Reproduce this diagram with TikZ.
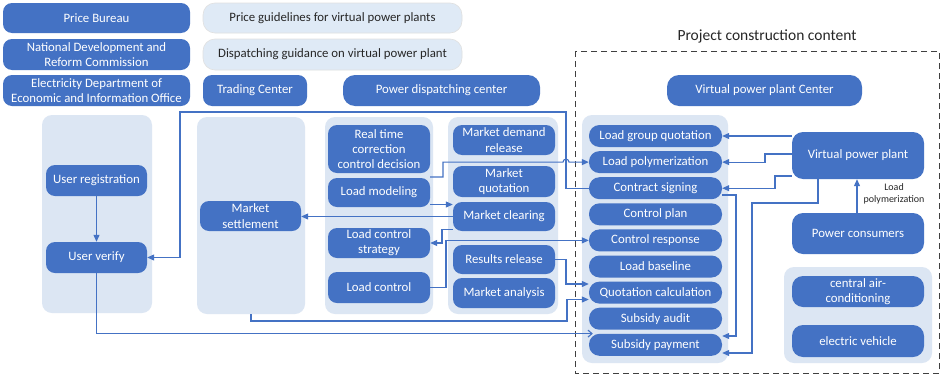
\documentclass[tikz,border=0pt]{standalone}
\usepackage{fontspec}
\setmainfont{Carlito}
\usetikzlibrary{arrows.meta}
\definecolor{dk}{HTML}{4472C4}
\definecolor{lt}{HTML}{DCE6F3}
\definecolor{lt2}{HTML}{DFEAF6}
\begin{document}
\begin{tikzpicture}[x=1pt,y=-1pt,
  dbox/.style={fill=dk, text=white, rounded corners=9pt, inner sep=0pt, align=center,
    font=\fontsize{12.8}{15.3}\selectfont},
  lbox/.style={fill=lt2, draw=black!12, line width=0.6pt, rounded corners=12pt, inner sep=0pt,
    align=center, text=black!85, font=\fontsize{12.8}{15.3}\selectfont},
  panel/.style={fill=lt, rounded corners=10pt, inner sep=0pt},
  pill/.style={dbox, rounded corners=10.5pt, minimum width=133pt, minimum height=22pt},
  conn/.style={draw=dk, line width=1.1pt, -{Triangle[length=7pt,width=6pt]}},
  conno/.style={draw=dk, line width=1.1pt, -{Straight Barb[length=4pt,width=7pt]}},
  frame/.style={draw=black!75, line width=1pt, dash pattern=on 6pt off 4pt},
  small/.style={font=\fontsize{10}{12}\selectfont, align=center, text=black!85}
]
\useasboundingbox (0,0) rectangle (941,375);
\fill[white] (0,0) rectangle (941,375);

% top row
\node[dbox, minimum width=187pt, minimum height=30pt] (pb) at (96.5,18) {Price Bureau};
\node[dbox, minimum width=187pt, minimum height=31pt] (ndrc) at (96.5,54.5) {National Development and\\Reform Commission};
\node[dbox, minimum width=187pt, minimum height=31pt] (eld) at (96.5,90.5) {Electricity Department of\\Economic and Information Office};
\node[lbox, minimum width=259pt, minimum height=30pt] (pg) at (332.5,18) {Price guidelines for virtual power plants};
\node[lbox, minimum width=259pt, minimum height=31pt] (dg) at (332.5,54.5) {Dispatching guidance on virtual power plant};
\node[dbox, minimum width=104pt, minimum height=31pt] (tc) at (255,90.5) {Trading Center};
\node[dbox, minimum width=197pt, minimum height=31pt, rounded corners=12pt] (pdc) at (441.5,90.5) {Power dispatching center};
\node[dbox, minimum width=195pt, minimum height=31pt, rounded corners=12pt] (vppc) at (764.5,90.5) {Virtual power plant Center};

% frame
\node[font=\fontsize{15.5}{18}\selectfont, text=black!85] (pcc) at (767,36) {Project construction content};
\draw[frame] (575,51) rectangle (939,373);

% panels
\node[panel, minimum width=110pt, minimum height=198pt] (p1) at (97,214) {};
\node[panel, minimum width=108pt, minimum height=197pt] (p2) at (251,215.5) {};
\node[panel, minimum width=108pt, minimum height=197pt] (p3) at (379,215.5) {};
\node[panel, minimum width=110pt, minimum height=197pt] (p4) at (503,215.5) {};
\node[panel, minimum width=146pt, minimum height=248pt] (p5) at (655,239) {};
\node[panel, minimum width=148pt, minimum height=96pt] (p6) at (858,315) {};

% left boxes
\node[dbox, minimum width=101pt, minimum height=31pt] (ureg) at (96.5,180.5) {User registration};
\node[dbox, minimum width=101pt, minimum height=31pt] (uver) at (96.5,257.5) {User verify};
\node[dbox, minimum width=101pt, minimum height=30pt] (mset) at (250.5,216) {Market\\settlement};

% dispatching column
\node[dbox, minimum width=102pt, minimum height=48pt] (rtc) at (379,149) {Real time\\correction\\control decision};
\node[dbox, minimum width=102pt, minimum height=29pt] (lmod) at (379,192.5) {Load modeling};
\node[dbox, minimum width=102pt, minimum height=30pt] (lcs) at (379,243) {Load control\\strategy};
\node[dbox, minimum width=102pt, minimum height=31pt] (lc) at (379,287.5) {Load control};

% market column
\node[dbox, minimum width=102pt, minimum height=30pt] (mdr) at (504,140) {Market demand\\release};
\node[dbox, minimum width=102pt, minimum height=31pt] (mq) at (504,181.5) {Market\\quotation};
\node[dbox, minimum width=102pt, minimum height=29pt] (mcl) at (504,216.5) {Market clearing};
\node[dbox, minimum width=102pt, minimum height=29pt] (rr) at (504,259.5) {Results release};
\node[dbox, minimum width=102pt, minimum height=30pt] (ma) at (504,293) {Market analysis};

% VPP column
\node[pill] (lgq) at (655.5,136) {Load group quotation};
\node[pill] (lpoly) at (655.5,162.1) {Load polymerization};
\node[pill] (csign) at (655.5,188.2) {Contract signing};
\node[pill] (cplan) at (655.5,214.3) {Control plan};
\node[pill] (cresp) at (655.5,240.4) {Control response};
\node[pill] (lbase) at (655.5,266.5) {Load baseline};
\node[pill] (qcalc) at (655.5,292.6) {Quotation calculation};
\node[pill] (saud) at (655.5,318.7) {Subsidy audit};
\node[pill] (spay) at (655.5,344.8) {Subsidy payment};

% right boxes
\node[dbox, minimum width=132pt, minimum height=47pt, rounded corners=11pt] (vpp) at (858,155.5) {Virtual power plant};
\node[dbox, minimum width=132pt, minimum height=41pt, rounded corners=11pt] (pc) at (858,233.5) {Power consumers};
\node[dbox, minimum width=132pt, minimum height=31pt, rounded corners=11pt] (cac) at (858,291.5) {central air-\\conditioning};
\node[dbox, minimum width=132pt, minimum height=32pt, rounded corners=11pt] (ev) at (858,341) {electric vehicle};
\node[small] (lpl) at (894,193.5) {Load\\polymerization};

% connectors
\draw[conn] (ureg.south) -- (uver.north);
\draw[conn] (csign.west) -- (566,188.2) -- (566,112) -- (180,112) |- (uver.east);
\draw[conno] (uver.south) |- ([xshift=4pt]spay.north west);
\draw[conn] (p2.south) |- (567,321) |- (qcalc.west |- 0,299.5);
\draw[conn] (rr.east) -- (566,259.5) |- (qcalc.west |- 0,284);
\draw[conn] (lmod.east |- 0,177) -- (443,177) -- (443,162.1) -- (563,162.1)
  arc[start angle=180, end angle=0, radius=3pt] -- (lpoly.west);
\draw[conn] (lmod.east |- 0,204.5) -- (mcl.west |- 0,204.5);
\draw[conn] (mcl.west) -- (mcl.west -| mset.east);
\draw[conn] (mcl.west |- 0,229.5) -- (442,229.5) |- (lcs.east);
\draw[conn] (lc.east) -- (446,287.5) |- (cresp.west);
\draw[conn] (vpp.west |- 0,136) -- (lgq.east);
\draw[conn] (vpp.west |- 0,154) -- (765,154) |- (lpoly.east);
\draw[conn] (vpp.west |- 0,176) -- (775,176) |- (csign.east);
\draw[conn] (vpp.south -| 818,0) -- (818,203) -- (752,203) |- (spay.east |- 0,353);
\draw[conn] (csign.east |- 0,195) -- (736,195) |- (spay.east |- 0,336);
\draw[conn] (pc.north -| 857,0) -- (vpp.south -| 857,0);
\end{tikzpicture}
\end{document}
